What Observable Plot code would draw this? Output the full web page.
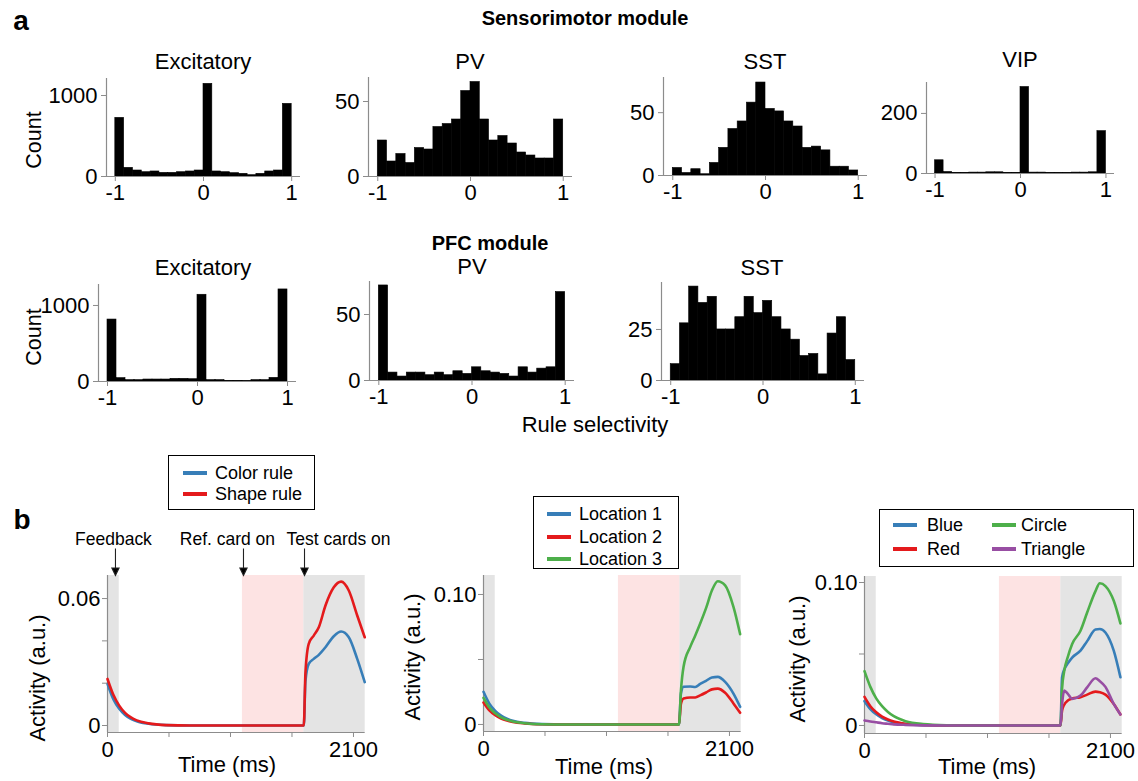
<!DOCTYPE html>
<html><head><meta charset="utf-8">
<script src="https://cdn.jsdelivr.net/npm/d3@7"></script>
<script src="https://cdn.jsdelivr.net/npm/@observablehq/plot@0.6"></script>
<style>
body{margin:0;background:#fff;}
#fig{position:relative;width:1138px;height:781px;font-family:"Liberation Sans",Arial,Helvetica,sans-serif;color:#000;overflow:hidden;background:#fff;}
.t{position:absolute;white-space:nowrap;transform:translate(-50%,-50%);line-height:1;}
.p{position:absolute;}
.p svg{overflow:visible;display:block;}
.leg{position:absolute;border:1.3px solid #000;background:#fff;box-sizing:border-box;}
.sw{position:absolute;height:4px;}
.lt{position:absolute;white-space:nowrap;font-size:18px;line-height:1;transform:translateY(-50%);}
</style></head><body><div id="fig"></div>
<script>
// ---------- DATA ----------
// histogram bins (rule selectivity), bin width 0.1
const binStart = [-1.0,-0.9,-0.8,-0.7,-0.6,-0.5,-0.4,-0.3,-0.2,-0.1,0.0,0.1,0.2,0.3,0.4,0.5,0.6,0.7,0.8,0.9];
const binWidth = 0.1;
const selTicks = [-1, 0, 1];

// Sensorimotor module
const smExcCounts = [724,107,74,53,62,45,45,53,62,74,1144,62,53,41,33,16,33,62,74,897];
const smPVCounts  = [24,10,15,9,19,18,33,35,38,57,63,38,24,27,22,16,14,12,12,38];
const smSSTCounts = [6,2,5,1,10,22,37,43,58,74,53,51,43,39,22,23,20,7,7,4];
const smVIPCounts = [44,5,2,2,3,3,4,4,2,2,288,3,3,2,2,2,3,3,4,141];
// PFC module
const pfcExcCounts = [815,44,18,18,26,26,26,35,35,30,1141,18,18,9,9,4,18,18,48,1211];
const pfcPVCounts  = [72,6,3,6,6,4,6,4,7,5,10,7,6,5,3,10,6,9,10,67];
const pfcSSTCounts = [8,28,46,38,41,25,25,31,41,33,39,31,25,20,12,13,3,23,31,10];

// Panel b: time courses (ms) and activity (a.u.)
const b1Times = [0,50,100,150,200,250,350,500,700,1676,1690,1718,1761,1804,1861,1932,1995,2060,2132,2196];
const b1Color = [0.0197,0.0124,0.0079,0.005,0.0032,0.002,0.0008,0.0002,0,0,0.021,0.0291,0.0315,0.0334,0.037,0.0422,0.0444,0.0417,0.0315,0.0205];
const b1Shape = [0.022,0.0145,0.0094,0.006,0.0038,0.0024,0.001,0.0002,0,0,0.025,0.0386,0.0425,0.0464,0.0567,0.0653,0.068,0.0638,0.052,0.0417];

const b2Times = [0,50,100,150,200,250,350,500,700,1669,1686,1708,1765,1808,1850,1900,1950,2000,2063,2134,2191];
const b2Loc1 = [0.0251,0.016,0.0105,0.0068,0.0044,0.0028,0.0012,0.0003,0,0,0.024,0.029,0.0292,0.0288,0.0312,0.0336,0.0362,0.0366,0.0328,0.0238,0.0136];
const b2Loc2 = [0.0169,0.0108,0.0071,0.0046,0.003,0.0019,0.0008,0.0002,0,0,0.016,0.02,0.0208,0.0208,0.0224,0.0246,0.027,0.0276,0.0244,0.0162,0.009];
const b2Loc3 = [0.0205,0.0131,0.0086,0.0055,0.0036,0.0023,0.001,0.0002,0,0,0.0264,0.0444,0.0597,0.0685,0.0777,0.0895,0.103,0.1102,0.107,0.0905,0.0695];

const b3Times = [0,50,100,150,200,250,350,500,700,900,1673,1687,1705,1736,1773,1844,1901,1972,2009,2057,2128,2185];
const b3Blue = [0.017,0.0115,0.0078,0.0052,0.0035,0.0023,0.001,0.0002,0,0,0,0.0337,0.039,0.0435,0.0475,0.0523,0.059,0.0672,0.0675,0.065,0.0523,0.0337];
const b3Red = [0.02,0.0135,0.0092,0.0062,0.0042,0.0028,0.0012,0.0003,0,0,0,0.0105,0.0145,0.0175,0.0188,0.0198,0.0216,0.0237,0.0232,0.0216,0.0151,0.0077];
const b3Circle = [0.038,0.027,0.019,0.0135,0.0095,0.0065,0.003,0.001,0.0002,0,0,0.026,0.038,0.048,0.057,0.0663,0.079,0.094,0.0995,0.0975,0.0872,0.0714];
const b3Triangle = [0.0035,0.0028,0.0022,0.0016,0.0012,0.0008,0.0004,0.0001,0,0,0,0.015,0.0244,0.0221,0.0186,0.0209,0.0267,0.033,0.031,0.027,0.0151,0.0077];

// task epochs (ms)
const grayEpochs = [{start:0,end:100},{start:1675,end:2200}];
const pinkEpochs = [{start:1152,end:1675}];
const timeTicks = [0,525,1050,1575,2100];
const timeLabels = {0:"0",2100:"2100"};

// event annotations (b, left panel)
const eventNames = ["Feedback","Ref. card on","Test cards on"];
const eventTimes = [68,1161,1682];
const eventLabelTimes = [51,1024,1972];

// ---------- STYLE ----------
const FONT = '"Liberation Sans", Arial, Helvetica, sans-serif';
const GRAY = "#8c8c8c";
const C_BLUE = "#377eb8", C_RED = "#e41a1c", C_GREEN = "#4daf4a", C_PURPLE = "#984ea3";
const TICK_FS = 22;

const fig = document.getElementById("fig");
function place(node, left, top){
  const d = document.createElement("div");
  d.className = "p"; d.style.left = left + "px"; d.style.top = top + "px";
  d.appendChild(node); fig.appendChild(d);
}
function txt(s, x, y, size, opts = {}){
  const d = document.createElement("div");
  d.className = "t"; d.textContent = s;
  d.style.left = x + "px"; d.style.top = y + "px"; d.style.fontSize = size + "px";
  if (opts.bold) d.style.fontWeight = "bold";
  if (opts.rotate) d.style.transform = "translate(-50%,-50%) rotate(-90deg)";
  fig.appendChild(d);
}
const fmtSel = d => d < 0 ? "-" + (-d) : String(d);

function hist(counts, yTicks, ymax, L){
  const mL = 70, mR = 12, mT = 8, mB = 36;
  const W = L.x1 - L.x0 + mL + mR, H = L.yb - L.yt + mT + mB;
  const data = binStart.map((s, i) => ({x1: s, x2: s + binWidth, n: counts[i]}));
  const p = Plot.plot({
    width: W, height: H, marginLeft: mL, marginRight: mR, marginTop: mT, marginBottom: mB,
    style: {fontFamily: FONT, fontSize: TICK_FS + "px", background: "transparent", overflow: "visible", color: "#000"},
    x: {domain: [-1.1, 1.1]}, y: {domain: [0, ymax]},
    marks: [
      Plot.rect(data, {x1: "x1", x2: "x2", y1: 0, y2: "n", fill: "#000", stroke: "#000", strokeWidth: 0.6}),
      Plot.ruleX([-1.1], {stroke: GRAY, strokeWidth: 1.2}),
      Plot.ruleY([0], {stroke: GRAY, strokeWidth: 1.2}),
      Plot.axisX({ticks: selTicks, tickFormat: fmtSel, tickSize: 5, tickPadding: 3, stroke: GRAY, fill: "#000", fontSize: TICK_FS, label: null}),
      Plot.axisY({ticks: yTicks, tickFormat: d => String(d), tickSize: 5, tickPadding: 4, stroke: GRAY, fill: "#000", fontSize: TICK_FS, label: null})
    ]
  });
  place(p, L.x0 - mL, L.yt - mT);
}

const arrowSym = {draw(ctx){
  ctx.moveTo(0, -27); ctx.lineTo(0, -7);
  ctx.moveTo(-3.6, -7.5); ctx.lineTo(3.6, -7.5); ctx.lineTo(0, 0); ctx.closePath();
}};

function linePanel(times, series, yTicks, yFmt, yDomain, L, withEvents){
  const mL = 80, mR = 12, mT = withEvents ? 62 : 10, mB = 40;
  const W = L.x1 - L.x0 + mL + mR, H = L.yb - L.yt + mT + mB;
  const marks = [
    Plot.rect(grayEpochs, {x1: "start", x2: "end", fill: "#e4e4e4"}),
    Plot.rect(pinkEpochs, {x1: "start", x2: "end", fill: "#fde3e3"}),
    Plot.ruleX([0], {stroke: GRAY, strokeWidth: 1.2}),
    Plot.ruleY([yDomain[0]], {stroke: GRAY, strokeWidth: 1.2})
  ];
  for (const s of series){
    const pts = times.map((t, i) => ({t, v: s.values[i]}));
    marks.push(Plot.line(pts, {x: "t", y: "v", stroke: s.color, strokeWidth: 2.6, curve: "monotone-x"}));
  }
  marks.push(
    Plot.axisX({ticks: timeTicks, tickFormat: d => timeLabels[d] ?? "", tickSize: 5, tickPadding: 4, stroke: GRAY, fill: "#000", fontSize: TICK_FS, label: null}),
    Plot.axisY({ticks: yTicks, tickFormat: yFmt, tickSize: 5, tickPadding: 2, stroke: GRAY, fill: "#000", fontSize: TICK_FS, label: null})
  );
  if (withEvents){
    const ev = eventNames.map((name, i) => ({name, t: eventTimes[i], lt: eventLabelTimes[i]}));
    marks.push(
      Plot.dot(ev, {x: "t", frameAnchor: "top", symbol: arrowSym, fill: "#000", stroke: "#222", strokeWidth: 1.1}),
      Plot.text(ev, {x: "lt", frameAnchor: "top", dy: -43, text: "name", fontSize: 17.5, fill: "#000"})
    );
  }
  const p = Plot.plot({
    width: W, height: H, marginLeft: mL, marginRight: mR, marginTop: mT, marginBottom: mB,
    style: {fontFamily: FONT, fontSize: TICK_FS + "px", background: "transparent", overflow: "visible", color: "#000"},
    x: {domain: [0, 2200]}, y: {domain: yDomain},
    marks
  });
  place(p, L.x0 - mL, L.yt - mT);
}

function legend(box, items){
  const b = document.createElement("div");
  b.className = "leg";
  b.style.left = box.x + "px"; b.style.top = box.y + "px";
  b.style.width = box.w + "px"; b.style.height = box.h + "px";
  fig.appendChild(b);
  for (const it of items){
    const s = document.createElement("div");
    s.className = "sw"; s.style.background = it.color;
    s.style.left = it.lx + "px"; s.style.width = "24px"; s.style.top = (it.y - 2) + "px";
    fig.appendChild(s);
    const t = document.createElement("div");
    t.className = "lt"; t.textContent = it.text;
    t.style.left = it.tx + "px"; t.style.top = it.y + "px";
    fig.appendChild(t);
  }
}

// ---------- PANEL a ----------
txt("a", 21, 21, 28, {bold: true});
txt("Sensorimotor module", 585, 18, 20, {bold: true});
txt("PFC module", 490, 243, 20, {bold: true});

hist(smExcCounts, [0, 1000], 1210, {x0: 106, x1: 300, yb: 176, yt: 78});
hist(smPVCounts, [0, 50], 66, {x0: 368, x1: 572, yb: 176, yt: 77});
hist(smSSTCounts, [0, 50], 78, {x0: 663, x1: 867, yb: 175, yt: 77});
hist(smVIPCounts, [0, 200], 303, {x0: 926, x1: 1114, yb: 173, yt: 82});
hist(pfcExcCounts, [0, 1000], 1276, {x0: 98, x1: 296, yb: 381, yt: 284});
hist(pfcPVCounts, [0, 50], 75, {x0: 369, x1: 574, yb: 380, yt: 281});
hist(pfcSSTCounts, [0, 25], 48, {x0: 661, x1: 864, yb: 380, yt: 282});

txt("Excitatory", 203, 62, 22);
txt("PV", 470, 62, 22);
txt("SST", 765, 62, 22);
txt("VIP", 1020, 60, 22);
txt("Excitatory", 203, 268, 22);
txt("PV", 472, 267, 22);
txt("SST", 762, 268, 22);
txt("Count", 35, 140, 21.5, {rotate: true});
txt("Count", 35, 337, 21.5, {rotate: true});
txt("Rule selectivity", 595, 425, 22);

// ---------- PANEL b ----------
txt("b", 22, 520, 28, {bold: true});

linePanel(b1Times, [{values: b1Color, color: C_BLUE}, {values: b1Shape, color: C_RED}],
  [0, 0.02, 0.04, 0.06], d => d === 0 ? "0" : (d === 0.06 ? "0.06" : ""), [-0.0033, 0.0709],
  {x0: 107, x1: 364.7, yt: 575, yb: 732}, true);
linePanel(b2Times, [{values: b2Loc1, color: C_BLUE}, {values: b2Loc2, color: C_RED}, {values: b2Loc3, color: C_GREEN}],
  [0, 0.05, 0.1], d => d === 0 ? "0" : (d === 0.1 ? "0.10" : ""), [-0.0054, 0.1146],
  {x0: 483, x1: 740.7, yt: 575, yb: 731}, false);
linePanel(b3Times, [{values: b3Blue, color: C_BLUE}, {values: b3Red, color: C_RED}, {values: b3Circle, color: C_GREEN}, {values: b3Triangle, color: C_PURPLE}],
  [0, 0.05, 0.1], d => d === 0 ? "0" : (d === 0.1 ? "0.10" : ""), [-0.0056, 0.1042],
  {x0: 864, x1: 1121.7, yt: 576, yb: 733}, false);

txt("Activity (a.u.)", 38, 678, 22, {rotate: true});
txt("Activity (a.u.)", 413, 657, 22, {rotate: true});
txt("Activity (a.u.)", 798, 659, 22, {rotate: true});
txt("Time (ms)", 227, 765, 22);
txt("Time (ms)", 604, 767, 22);
txt("Time (ms)", 987, 767, 22);

legend({x: 168, y: 455, w: 147, h: 55}, [
  {color: C_BLUE, text: "Color rule", lx: 183, tx: 215, y: 473},
  {color: C_RED, text: "Shape rule", lx: 183, tx: 215, y: 494}
]);
legend({x: 533, y: 496, w: 146, h: 73}, [
  {color: C_BLUE, text: "Location 1", lx: 547, tx: 579, y: 514},
  {color: C_RED, text: "Location 2", lx: 547, tx: 579, y: 537},
  {color: C_GREEN, text: "Location 3", lx: 547, tx: 579, y: 559}
]);
legend({x: 879, y: 509, w: 255, h: 58}, [
  {color: C_BLUE, text: "Blue", lx: 893, tx: 927, y: 525},
  {color: C_RED, text: "Red", lx: 893, tx: 927, y: 549},
  {color: C_GREEN, text: "Circle", lx: 992, tx: 1021, y: 525},
  {color: C_PURPLE, text: "Triangle", lx: 992, tx: 1021, y: 549}
]);
</script>
</body></html>
